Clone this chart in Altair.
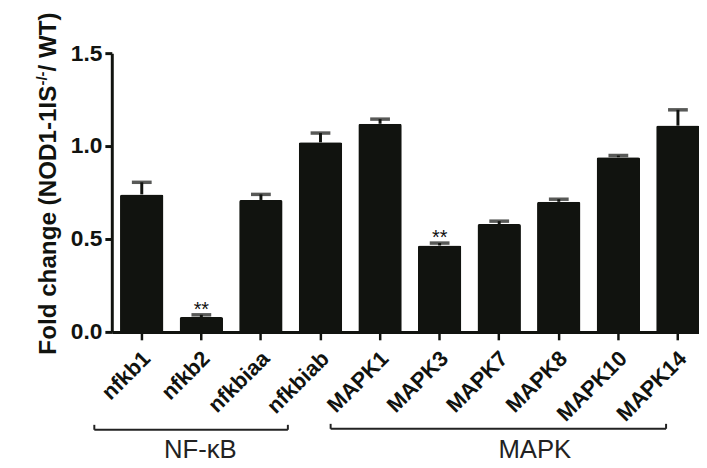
import altair as alt
import pandas as pd

# ---- data ----
genes = ["nfkb1", "nfkb2", "nfkbiaa", "nfkbiab", "MAPK1", "MAPK3",
         "MAPK7", "MAPK8", "MAPK10", "MAPK14"]
fold_change = [0.74, 0.08, 0.71, 1.02, 1.12, 0.465, 0.58, 0.70, 0.94, 1.11]
sem = [0.065, 0.012, 0.03, 0.05, 0.025, 0.013, 0.016, 0.014, 0.009, 0.085]
significance = ["", "**", "", "", "", "**", "", "", "", ""]
group_names = ["NF-\u03baB", "MAPK"]
group_first = ["nfkb1", "MAPK1"]
group_last = ["nfkbiab", "MAPK14"]
group_label_anchor = ["nfkb2", "MAPK7"]

title_main = "Fold change (NOD1-1IS"
title_sup = "-/-"
title_end = "/ WT)"

FONT = "Liberation Sans"
INK = "#11130f"

df = pd.DataFrame({"gene": genes, "value": fold_change, "sem": sem, "sig": significance})
df["top"] = df["value"] + df["sem"]

x_scale = alt.Scale(domain=genes, range=[0, 603], paddingInner=0.27, paddingOuter=0.138)
y_scale = alt.Scale(domain=[0, 1.5], nice=False)

x_axis = alt.Axis(title=None, labelAngle=315, labelAlign="right", labelBaseline="middle",
                  labelFont=FONT, labelFontSize=22, labelFontWeight="bold", labelColor=INK,
                  labelOffset=5, labelPadding=15, tickSize=8, tickWidth=2.5, tickColor=INK,
                  domainColor=INK, domainWidth=3, labelOverlap=False)
y_axis = alt.Axis(title=None, values=[0, 0.5, 1.0, 1.5], format=".1f", grid=False,
                  labelFont=FONT, labelFontSize=23, labelFontWeight="bold", labelColor=INK,
                  labelPadding=3, tickSize=7, tickWidth=3, tickColor=INK,
                  domainColor=INK, domainWidth=3)

X = lambda f: alt.X(f, scale=x_scale, axis=x_axis, sort=genes)
Y = lambda f: alt.Y(f, scale=y_scale, axis=y_axis)

base = alt.Chart(df)

bars = base.mark_bar(color=INK, cornerRadiusTopLeft=2, cornerRadiusTopRight=2).encode(
    x=X("gene:N"), y=Y("value:Q"))

stems = base.mark_rule(color=INK, strokeWidth=3).encode(
    x=X("gene:N"), y=Y("value:Q"), y2="top:Q")

caps = base.mark_tick(color=INK, size=20, thickness=3.5).encode(
    x=X("gene:N"), y=Y("top:Q"))

stars = base.mark_text(font=FONT, fontSize=20, color="#111", baseline="alphabetic", dy=1).encode(
    x=X("gene:N"), y=Y("top:Q"), text="sig:N")

layers = [bars, stems, caps, stars]

# group brackets under the axis labels
bracket_offsets = [(-48, -33, 381), (-50, -12, 380)]
label_offsets = [-1, 36]
for i in range(len(group_names)):
    gd = pd.DataFrame({"first": [group_first[i]], "last": [group_last[i]],
                       "anchor": [group_label_anchor[i]], "name": [group_names[i]]})
    o1, o2, yy = bracket_offsets[i]
    gc = alt.Chart(gd)
    layers.append(gc.mark_rule(color="#222", strokeWidth=2, xOffset=o1, x2Offset=o2).encode(
        x=X("first:N"), x2="last:N", y=alt.value(yy)))
    layers.append(gc.mark_rule(color="#222", strokeWidth=2, xOffset=o1).encode(
        x=X("first:N"), y=alt.value(yy - 5), y2=alt.value(yy)))
    layers.append(gc.mark_rule(color="#222", strokeWidth=2, xOffset=o2).encode(
        x=X("last:N"), y=alt.value(yy - 5), y2=alt.value(yy)))
    layers.append(gc.mark_text(font=FONT, fontSize=26, color="#222", baseline="alphabetic",
                               align="center", xOffset=label_offsets[i]).encode(
        x=X("anchor:N"), y=alt.value(410), text="name:N"))

# y-axis title with superscript
fs = 24.5
sup_fs = 15
w_main = 11.113 * fs
w_sup = 0.944 * sup_fs
y0 = 305
t1 = alt.Chart(pd.DataFrame({"t": [title_main]})).mark_text(
    font=FONT, fontSize=fs, fontWeight="bold", color=INK, angle=270, align="left",
    baseline="alphabetic").encode(x=alt.value(-56), y=alt.value(y0), text="t:N")
t2 = alt.Chart(pd.DataFrame({"t": [title_sup]})).mark_text(
    font=FONT, fontSize=sup_fs, fontWeight="bold", color=INK, angle=270, align="left",
    baseline="alphabetic").encode(x=alt.value(-66), y=alt.value(y0 - w_main), text="t:N")
t3 = alt.Chart(pd.DataFrame({"t": [title_end]})).mark_text(
    font=FONT, fontSize=fs, fontWeight="bold", color=INK, angle=270, align="left",
    baseline="alphabetic").encode(x=alt.value(-56), y=alt.value(y0 - w_main - w_sup), text="t:N")
layers += [t1, t2, t3]

chart = alt.layer(*layers).properties(
    width=594, height=282,
    autosize=alt.AutoSizeParams(type="none"),
    padding={"left": 105, "top": 43, "right": 0, "bottom": 135},
    background="white",
).configure_view(stroke=None)

chart.save("out.html", embed_options={"renderer": "svg", "actions": False})
